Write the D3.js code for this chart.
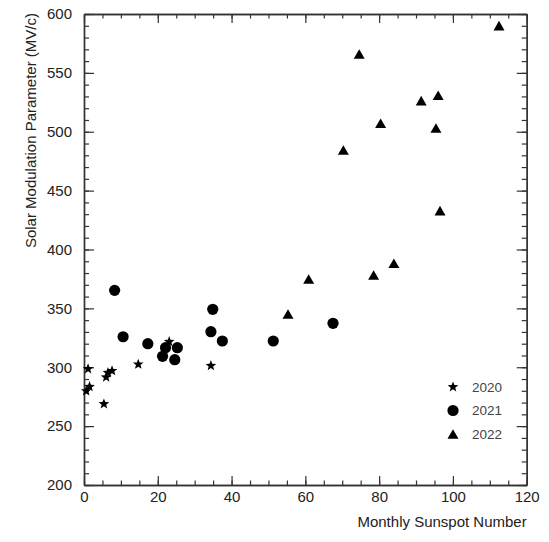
<!DOCTYPE html>
<meta charset="utf-8">
<script src="https://cdn.jsdelivr.net/npm/d3@7/dist/d3.min.js"></script>
<style>
  body { margin: 0; background: #fff; }
  text { font-family: "Liberation Sans", Arial, sans-serif; }
</style>
<body>
<script>

// Monthly sunspot number vs. solar modulation parameter, one pair of arrays per year
var sun2020 = [0.6, 1.5, 1.1, 5.4, 6.0, 6.5, 7.6, 14.7, 23.1, 34.4];
var phi2020 = [279.8, 283.5, 298.6, 268.8, 291.5, 295.4, 297.0, 302.5, 321.7, 301.3];

var sun2021 = [8.3, 10.6, 17.3, 21.3, 22.1, 24.6, 25.3, 34.4, 34.9, 37.5, 51.3, 67.5];
var phi2021 = [365.3, 325.9, 320.0, 309.3, 316.6, 306.4, 316.6, 330.2, 349.2, 322.3, 322.3, 337.3];

var sun2022 = [55.3, 60.9, 70.3, 74.6, 78.5, 80.4, 84.0, 91.4, 95.4, 96.0, 96.5, 112.5];
var phi2022 = [345.2, 375.0, 484.5, 566.0, 378.3, 507.2, 388.3, 526.4, 503.2, 531.0, 433.0, 590.1];

var years = ["2020", "2021", "2022"];
var xTicks = [0, 20, 40, 60, 80, 100, 120];
var yTicks = [200, 250, 300, 350, 400, 450, 500, 550, 600];

var width = 549, height = 542;
var margin = {top: 14, right: 22.3, bottom: 57, left: 84};

var svg = d3.select("body").append("svg")
    .attr("width", width)
    .attr("height", height);

var x = d3.scaleLinear()
    .domain([0, 120])
    .range([margin.left, width - margin.right]);

var y = d3.scaleLinear()
    .domain([200, 600])
    .range([height - margin.bottom, margin.top]);

// marker shapes
var starPath = function(R) {
  var r = R * 0.42, pts = [];
  for (var i = 0; i < 10; i++) {
    var a = -Math.PI / 2 + i * Math.PI / 5;
    var rr = i % 2 == 0 ? R : r;
    pts.push([rr * Math.cos(a), rr * Math.sin(a)]);
  }
  return "M" + pts.join("L") + "Z";
};
var triPath = function(w, h) {
  return "M0," + (-h / 2) + "L" + (w / 2) + "," + (h / 2) + "L" + (-w / 2) + "," + (h / 2) + "Z";
};
var shapes = {
  "2020": starPath(5.6),
  "2021": null,
  "2022": triPath(11, 9.6)
};

var axisColor = "#333";

// minor ticks first, then major ticks with labels
var minorX = d3.range(0, 121, 5), minorY = d3.range(200, 601, 10);

var drawAxis = function(axis, tx, ty) {
  var g = svg.append("g")
      .attr("transform", "translate(" + tx + "," + ty + ")")
      .call(axis);
  g.select(".domain").attr("stroke", axisColor).attr("stroke-width", 1.4);
  g.selectAll(".tick line").attr("stroke", axisColor).attr("stroke-width", 1.2);
  g.selectAll(".tick text")
      .attr("fill", "#222")
      .style("font-size", "15px")
      .style("font-family", "'Liberation Sans', Arial, sans-serif");
  return g;
};

var bottomY = y(200), topY = y(600), leftX = x(0), rightX = x(120);

// bottom
drawAxis(d3.axisBottom(x).tickValues(minorX).tickSize(-4.5).tickFormat("").tickSizeOuter(0), 0, bottomY);
drawAxis(d3.axisBottom(x).tickValues(xTicks).tickSize(-9).tickPadding(6).tickSizeOuter(0), 0, bottomY);
// top
drawAxis(d3.axisTop(x).tickValues(minorX).tickSize(-4.5).tickFormat("").tickSizeOuter(0), 0, topY);
drawAxis(d3.axisTop(x).tickValues(xTicks).tickSize(-9).tickFormat("").tickSizeOuter(0), 0, topY);
// left
drawAxis(d3.axisLeft(y).tickValues(minorY).tickSize(-5).tickFormat("").tickSizeOuter(0), leftX, 0);
drawAxis(d3.axisLeft(y).tickValues(yTicks).tickSize(-10).tickPadding(12).tickSizeOuter(0), leftX, 0);
// right
drawAxis(d3.axisRight(y).tickValues(minorY).tickSize(-5).tickFormat("").tickSizeOuter(0), rightX, 0);
drawAxis(d3.axisRight(y).tickValues(yTicks).tickSize(-10).tickFormat("").tickSizeOuter(0), rightX, 0);

// axis titles
svg.append("text")
    .attr("x", rightX)
    .attr("y", 527)
    .attr("text-anchor", "end")
    .attr("fill", "#222")
    .style("font-size", "15px")
    .text("Monthly Sunspot Number");

svg.append("text")
    .attr("transform", "translate(36," + 13 + ") rotate(-90)")
    .attr("text-anchor", "end")
    .attr("fill", "#222")
    .style("font-size", "15px")
    .text("Solar Modulation Parameter (MV/c)");

// points
var series = [
  {year: "2020", sun: sun2020, phi: phi2020},
  {year: "2021", sun: sun2021, phi: phi2021},
  {year: "2022", sun: sun2022, phi: phi2022}
];

series.forEach(function(s) {
  var pts = s.sun.map(function(d, i) { return [d, s.phi[i]]; });
  if (s.year == "2021") {
    svg.append("g").selectAll("circle")
        .data(pts)
      .enter().append("circle")
        .attr("cx", function(d) { return x(d[0]); })
        .attr("cy", function(d) { return y(d[1]); })
        .attr("r", 5.6)
        .attr("fill", "#000");
  } else {
    svg.append("g").selectAll("path")
        .data(pts)
      .enter().append("path")
        .attr("transform", function(d) { return "translate(" + x(d[0]) + "," + y(d[1]) + ")"; })
        .attr("d", shapes[s.year])
        .attr("fill", "#000");
  }
});

// legend
var legend = svg.append("g").attr("transform", "translate(453,387)");
years.forEach(function(yr, i) {
  var row = legend.append("g").attr("transform", "translate(0," + (i * 23.5) + ")");
  if (yr == "2021") {
    row.append("circle").attr("r", 5.6).attr("fill", "#000");
  } else {
    row.append("path").attr("d", shapes[yr]).attr("fill", "#000");
  }
  row.append("text")
      .attr("x", 19)
      .attr("dy", "0.35em")
      .attr("fill", "#444")
      .style("font-size", "13.5px")
      .text(yr);
});

</script>
</body>
</html>
